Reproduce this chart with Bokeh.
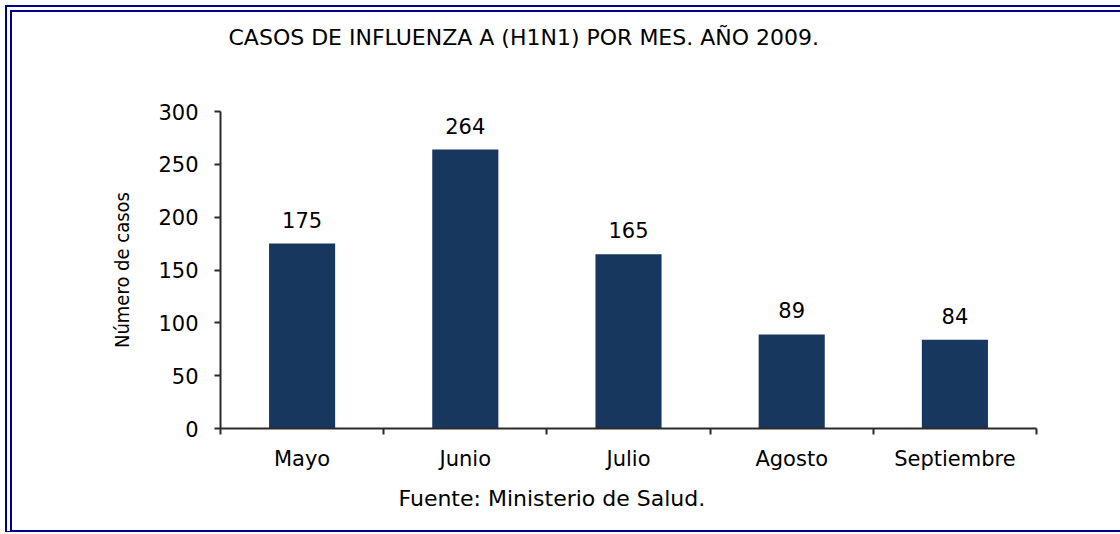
from bokeh.plotting import figure
from bokeh.models import Range1d, FixedTicker, LabelSet, ColumnDataSource, Title
from bokeh.core.properties import value
from bokeh.embed import file_html
from bokeh.resources import INLINE

# ---- data ----
months = ["Mayo", "Junio", "Julio", "Agosto", "Septiembre"]
cases = [175, 264, 165, 89, 84]
y_ticks = [0, 50, 100, 150, 200, 250, 300]
title_text = "CASOS DE INFLUENZA A (H1N1) POR MES. AÑO 2009."
y_label_text = "Número de casos"
source_text = "Fuente: Ministerio de Salud."

# ---- style ----
BAR = "#17375E"
NAVY = "#00008B"
AXIS = "#2b2b2b"
FONT = "DejaVu Sans"
NARROW = "'Liberation Sans Narrow', 'DejaVu Sans Condensed', 'Liberation Sans'"

x_pos = [i + 0.5 for i in range(len(months))]
src = ColumnDataSource(dict(x=x_pos, cases=cases, lab=[str(c) for c in cases]))

p = figure(frame_width=816, frame_height=317,
           min_border_left=208, min_border_right=84,
           min_border_top=99, min_border_bottom=102,
           x_range=Range1d(0, len(months)), y_range=Range1d(0, 300),
           title_location=None,
           output_backend="svg", toolbar_location=None)
p.styles = {"margin-left": "5px", "margin-top": "5px",
            "border-top": f"7px double {NAVY}", "border-left": f"7px double {NAVY}",
            "border-bottom": f"2px solid {NAVY}",
            "border-right-width": "0px", "border-right-style": "none",
            "outline": "none", "box-shadow": "none"}
p.outline_line_color = None
p.background_fill_color = "white"
p.border_fill_color = "white"
p.xgrid.visible = False
p.ygrid.visible = False

# spacer (nearest the frame) then the real title above it
p.add_layout(Title(text=" ", standoff=35, text_font=FONT, text_font_size="22px"), "above")
p.add_layout(Title(text=title_text, align="left", offset=8, standoff=0,
                   text_font=FONT, text_font_size="22px", text_font_style="normal",
                   text_color="black"), "above")

p.add_layout(Title(text=source_text, align="left", offset=178, standoff=20,
                   text_font=FONT, text_font_size="22px", text_font_style="normal",
                   text_color="black"), "below")

p.vbar(x="x", top="cases", width=0.405, source=src, fill_color=BAR, line_color=None)

labels = LabelSet(x="x", y="cases", text="lab", source=src, y_offset=16,
                  text_align="center", text_baseline="alphabetic",
                  text_font=value(FONT), text_font_size=value("21px"), text_color="black")
p.add_layout(labels)

# x axis
xa = p.xaxis[0]
xa.ticker = FixedTicker(ticks=x_pos, minor_ticks=list(range(len(months) + 1)))
xa.major_label_overrides = {xv: m for xv, m in zip(x_pos, months)}
xa.major_tick_out = 0
xa.major_tick_in = 0
xa.minor_tick_out = 6
xa.minor_tick_in = 0
xa.minor_tick_line_color = AXIS
xa.minor_tick_line_width = 2
xa.axis_line_color = AXIS
xa.axis_line_width = 2
xa.major_label_text_font = FONT
xa.major_label_text_font_size = "21px"
xa.major_label_text_color = "black"
xa.major_label_standoff = 12

# y axis
ya = p.yaxis[0]
ya.ticker = FixedTicker(ticks=y_ticks, minor_ticks=[])
ya.major_tick_out = 6
ya.major_tick_in = 0
ya.major_tick_line_color = AXIS
ya.major_tick_line_width = 2
ya.axis_line_color = AXIS
ya.axis_line_width = 2
ya.major_label_text_font = FONT
ya.major_label_text_font_size = "21px"
ya.major_label_text_color = "black"
ya.major_label_standoff = 16
ya.axis_label = y_label_text
ya.axis_label_text_font = NARROW
ya.axis_label_text_font_size = "20px"
ya.axis_label_text_font_style = "normal"
ya.axis_label_text_color = "black"
ya.axis_label_standoff = 21

open("out.html", "w").write(file_html(p, INLINE))
